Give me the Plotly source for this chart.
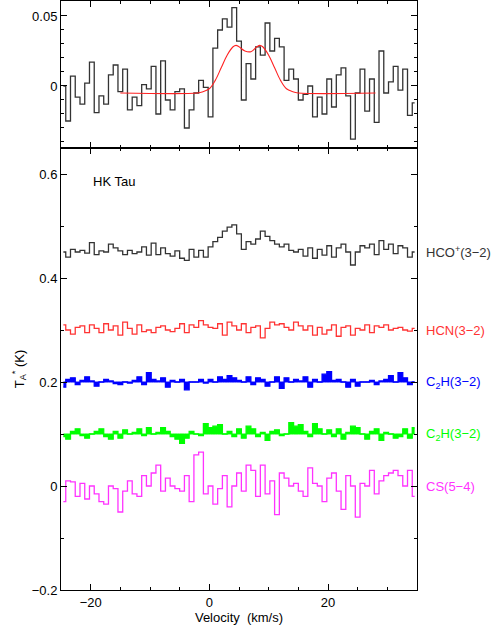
import plotly.graph_objects as go

CH_START = -24.6
CH_WIDTH = 0.8

top_hco = [0,-25,7,-8,-13,2,17,-19,-7,-13,8,15,-4,12,-17,-8,-14,1,-2,14,-20,18,-10,-17,-4,-2,-30,-17,-5,4,
           -1,-22,27,40,48,42,56,32,-10,16,5,28,22,45,25,34,28,4,12,5,-10,-6,0,-22,-8,-20,5,-15,8,13,
           -7,-38,-5,12,-18,5,-26,25,-5,3,14,-3,12,-21,-12]
fit_v = [-15,-2,-1,0,1,2,3,4,4.5,5,6,7,8,8.5,9,10,11,12,13,14,15,28]
fit_y = [-5,-5,-4,-2,4,13,22,28,29,28,25,24.5,28,29,28,22,13,4,-2,-4,-5,-5]

hco = [0,-10,5,0,3,-2,18,-5,2,0,15,8,2,-5,3,-3,0,10,-6,17,-5,8,-3,-8,2,-12,-16,5,-10,3,
       -10,10,20,28,40,48,52,35,5,20,15,25,40,30,22,15,10,15,3,0,5,-8,8,-12,5,-6,12,-10,8,15,
       0,-25,0,12,8,15,-5,22,5,15,-3,12,8,-10,0]
hcn = [10,0,-8,5,8,-5,10,3,-5,12,0,8,-10,15,3,-8,10,-3,0,-5,5,8,0,-3,3,12,-5,10,5,18,
       10,5,3,12,-10,15,8,0,12,-5,5,8,-15,3,15,10,12,5,0,15,8,0,8,-10,5,-8,0,10,-12,5,
       8,-10,3,0,10,-5,8,5,10,0,3,5,0,-2,3]
c2h_a = [-10,5,8,-5,3,10,2,-8,0,5,2,-3,-5,0,-2,3,10,-5,18,5,2,8,-10,3,0,5,-15,0,0,5,
         -2,5,0,10,5,12,8,3,0,10,-5,8,5,-8,0,10,-12,8,0,5,2,10,-10,5,0,15,20,3,5,0,
         -10,5,-8,0,0,3,-5,2,5,12,0,18,8,-5,0]
c2h_b = [-5,-10,5,10,-3,-8,0,5,10,-5,-10,5,-8,8,0,3,10,-3,12,0,3,12,5,-5,-10,-18,-8,5,0,-3,
         20,12,15,18,0,5,-5,10,-8,15,10,-5,3,-12,5,8,-3,0,22,15,18,5,-5,20,10,0,8,-5,10,-10,
         3,15,12,0,-10,5,10,-12,3,0,-8,-5,10,-8,12]
cs = [-30,10,8,-20,5,-25,0,-15,-30,-35,0,-5,-50,-10,10,-15,-20,20,0,25,40,-10,15,0,-5,-10,20,-30,60,65,
      -15,0,-35,-5,20,-40,0,25,-10,40,30,-20,40,-15,10,-55,25,15,0,5,-10,-20,35,5,0,-30,15,25,-10,-45,
      20,0,-60,5,0,30,-15,10,20,25,30,20,0,30,-20]

offsets = [0.45, 0.30, 0.20, 0.10, 0.0]
colors = ["#333333", "#ff3333", "#0000ff", "#00ff00", "#ff33ff"]
labels = ["HCO<sup>+</sup>(3−2)", "HCN(3−2)", "C<sub>2</sub>H(3−2)", "C<sub>2</sub>H(3−2)", "CS(5−4)"]
series = [hco, hcn, c2h_a, c2h_b, cs]
filled = [False, False, True, True, False]

def vel(n):
    return [CH_START + CH_WIDTH * i for i in range(n)]

FONT = "Liberation Sans"
fig = go.Figure()
fig.add_trace(go.Scatter(x=vel(len(top_hco)), y=[v/1000 for v in top_hco], mode="lines",
                         line=dict(shape="hvh", color="#333333", width=1.3), xaxis="x2", yaxis="y2"))
fig.add_trace(go.Scatter(x=fit_v, y=[v/1000 for v in fit_y], mode="lines",
                         line=dict(shape="spline", color="#ff2222", width=1.1), xaxis="x2", yaxis="y2"))

for data, off, col, lab, fl in zip(series, offsets, colors, labels, filled):
    x = vel(len(data))
    if fl:
        fig.add_trace(go.Scatter(x=x, y=[off]*len(x), mode="lines",
                                 line=dict(shape="hvh", color=col, width=1)))
        fig.add_trace(go.Scatter(x=x, y=[off + v/1000 for v in data], mode="lines",
                                 line=dict(shape="hvh", color=col, width=1.3),
                                 fill="tonexty", fillcolor=col))
    else:
        fig.add_trace(go.Scatter(x=x, y=[off + v/1000 for v in data], mode="lines",
                                 line=dict(shape="hvh", color=col, width=1.3)))
    fig.add_annotation(x=1.02, xref="paper", y=off, yref="y", text=lab, showarrow=False,
                       xanchor="left", font=dict(color=col, size=13, family=FONT))

fig.add_annotation(x=-20, y=0.585, text="HK Tau", showarrow=False, xanchor="left",
                   font=dict(size=13, family=FONT, color="black"))

ax = dict(showgrid=False, zeroline=False, showline=True, linecolor="black", linewidth=1,
          mirror="ticks", ticks="inside", ticklen=6, tickcolor="black",
          tickfont=dict(size=13, family=FONT, color="black"))
tfont = dict(size=13, family=FONT, color="black")
fig.update_layout(
    width=500, height=627, showlegend=False, plot_bgcolor="white", paper_bgcolor="white",
    margin=dict(l=61, r=83, t=1, b=37),
    xaxis=dict(ax, range=[-25, 35], domain=[0, 1], dtick=20, tick0=0,
               minor=dict(dtick=5, ticks="inside", ticklen=3, tickcolor="black"),
               title=dict(text="Velocity  (km/s)", font=tfont, standoff=0)),
    yaxis=dict(ax, range=[-0.2, 0.65], domain=[0, 0.7504], dtick=0.2, tick0=0,
               minor=dict(dtick=0.1, ticks="inside", ticklen=3, tickcolor="black"),
               title=dict(text="T<sub>A</sub><sup>*</sup> (K)", font=tfont, standoff=4)),
    xaxis2=dict(ax, range=[-25, 35], domain=[0, 1], anchor="y2", dtick=20, tick0=0, showticklabels=False,
                minor=dict(dtick=5, ticks="inside", ticklen=3, tickcolor="black")),
    yaxis2=dict(ax, range=[-0.0443, 0.0607], domain=[0.7504, 1], anchor="x2", dtick=0.05, tick0=0,
                minor=dict(dtick=0.01, ticks="inside", ticklen=3, tickcolor="black")),
)
fig.write_html("out.html", config={"displayModeBar": False},
               post_script="document.body.style.margin='0';document.body.style.overflow='hidden';")
